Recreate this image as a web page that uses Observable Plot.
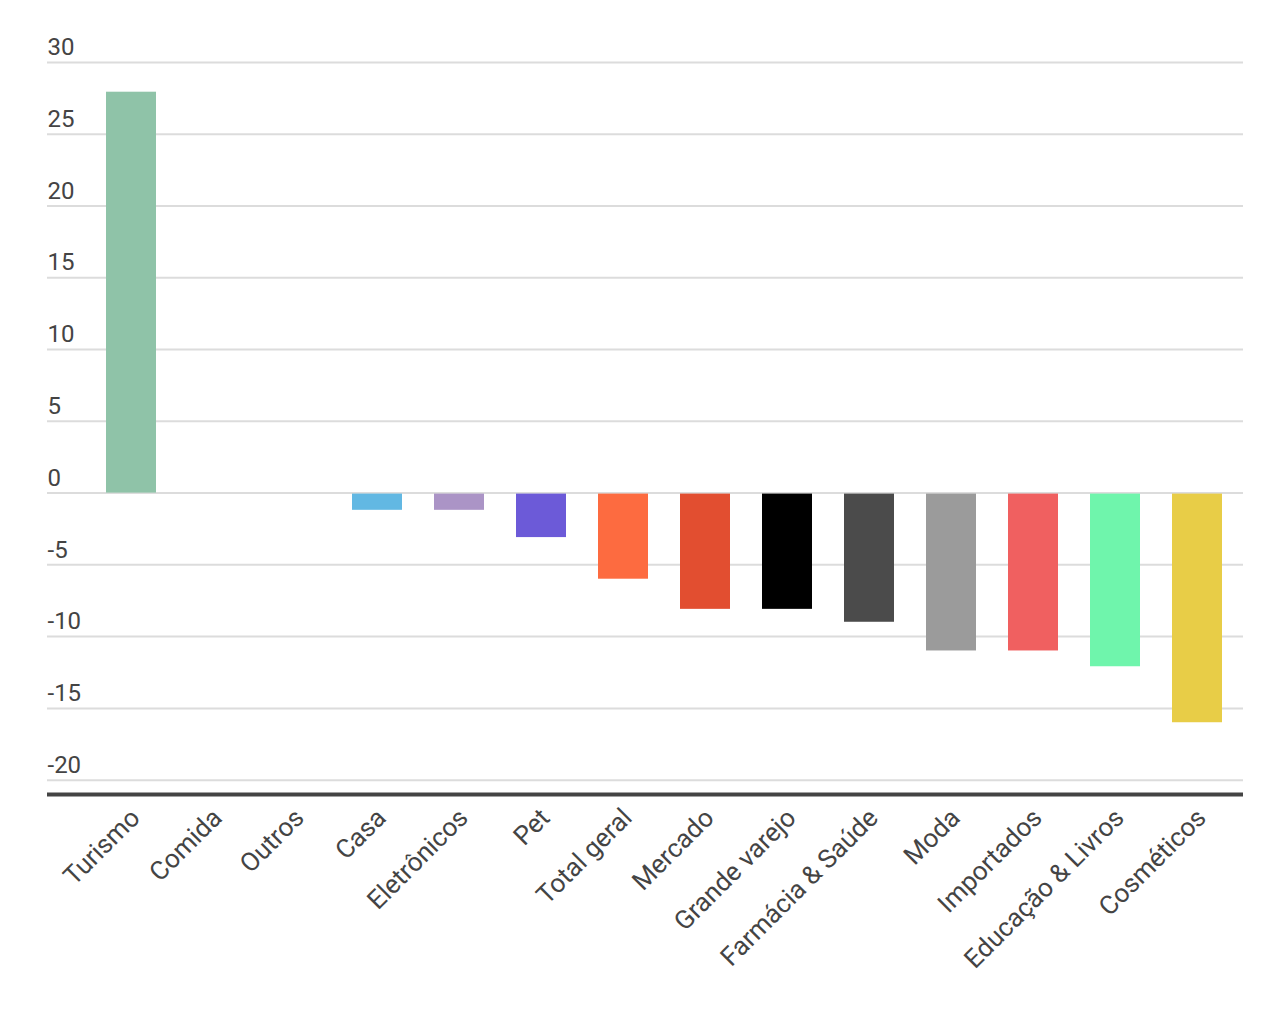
<!DOCTYPE html>
<html>
<head>
<meta charset="utf-8">
<script src="https://cdn.jsdelivr.net/npm/d3@7"></script>
<script src="https://cdn.jsdelivr.net/npm/@observablehq/plot@0.6"></script>
<style>
  html, body { margin: 0; padding: 0; background: #fff; }
  #chart svg { display: block; }
</style>
</head>
<body>
<div id="chart"></div>
<script>
const categories = ["Turismo", "Comida", "Outros", "Casa", "Eletrônicos", "Pet", "Total geral", "Mercado", "Grande varejo", "Farmácia & Saúde", "Moda", "Importados", "Educação & Livros", "Cosméticos"];
const values = [28, 0, 0, -1.2, -1.2, -3.1, -6, -8.1, -8.1, -9, -11, -11, -12.1, -16];
const colors = ["#8fc3a8", "#8fc3a8", "#8fc3a8", "#62b8e3", "#ab94c6", "#6c5ad8", "#fd6b40", "#e24e30", "#000000", "#4b4b4b", "#9b9b9b", "#f06060", "#6ff5ac", "#e8cd47"];
const yTicks = [30, 25, 20, 15, 10, 5, 0, -5, -10, -15, -20];

const data = categories.map((c, i) => ({category: c, value: values[i], color: colors[i]}));

const chart = Plot.plot({
  width: 1280,
  height: 1014,
  marginTop: 62,
  marginBottom: 220,
  marginLeft: 47,
  marginRight: 37,
  style: {fontFamily: "Roboto, sans-serif", background: "#fff"},
  x: {domain: categories, range: [74, 1254], padding: 0.39, axis: null},
  y: {domain: [-21, 30], axis: null},
  marks: [
    Plot.ruleY(yTicks, {stroke: "#dcdcdc", strokeWidth: 2}),
    Plot.barY(data, {x: "category", y1: 0, y2: "value", fill: d => d.color, insetTop: 1}),
    Plot.ruleY([-21], {stroke: "#444", strokeWidth: 4}),
    Plot.text(yTicks, {y: d => d, text: d => String(d), frameAnchor: "left", textAnchor: "start", dy: -15, fontSize: 24, fill: "#444"}),
    Plot.text(categories, {x: d => d, y: -21, text: d => d, rotate: -45, textAnchor: "end", dx: 4, dy: 19, fontSize: 26, fill: "#444"})
  ]
});
document.getElementById("chart").appendChild(chart);
</script>
</body>
</html>
